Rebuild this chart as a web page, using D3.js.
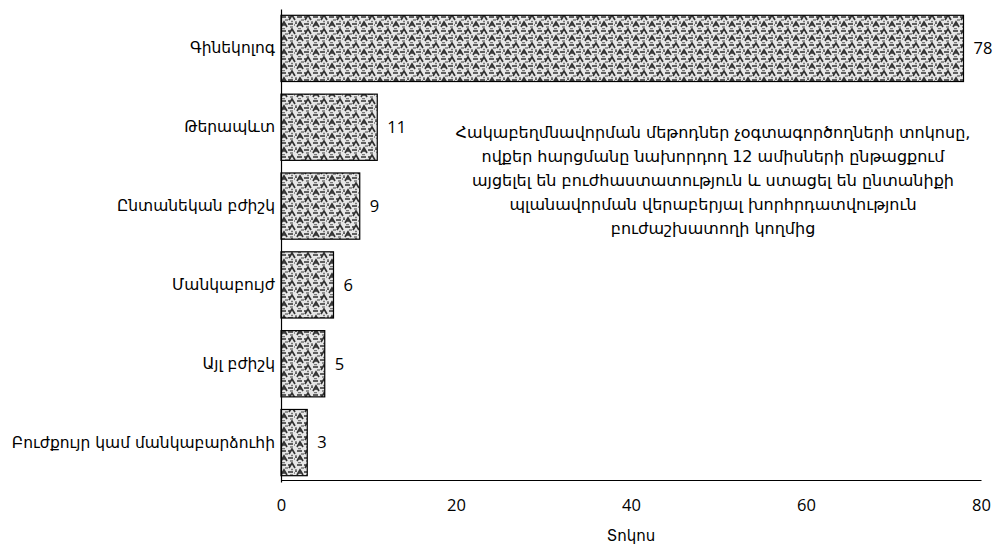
<!DOCTYPE html>
<html>
<head>
<meta charset="utf-8">
<script src="https://cdn.jsdelivr.net/npm/d3@7/dist/d3.min.js"></script>
<style>
  html, body { margin: 0; padding: 0; background: #fff; }
  svg { display: block; }
  .arm { font-family: "DejaVu Sans", sans-serif; }
  .num { font-family: "Open Sans", "Noto Sans", sans-serif; }
</style>
</head>
<body>
<svg id="chart" width="998" height="547"></svg>
<script>
// Share of contraceptive users who visited a clinic in the last 12 months
// and received family-planning advice from staff, by type of provider (%)
const categories = [
  "Գինեկոլոգ",
  "Թերապևտ",
  "Ընտանեկան բժիշկ",
  "Մանկաբույժ",
  "Այլ բժիշկ",
  "Բուժքույր կամ մանկաբարձուհի"
];
const values = [78, 11, 9, 6, 5, 3];
const xTicks = [0, 20, 40, 60, 80];
const xTitle = "Տոկոս";
const noteLines = [
  "Հակաբեղմնավորման մեթոդներ չօգտագործողների տոկոսը,",
  "ովքեր հարցմանը նախորդող 12 ամիսների ընթացքում",
  "այցելել են բուժհաստատություն և ստացել են ընտանիքի",
  "պլանավորման վերաբերյալ խորհրդատվություն",
  "բուժաշխատողի կողմից"
];

const svg = d3.select("#chart");
const margin = { left: 281, right: 17, top: 9, bottom: 65 };
const W = 998, H = 547;

const x = d3.scaleLinear().domain([0, 80]).range([margin.left, W - margin.right]);
const y = d3.scaleBand().domain(categories)
  .range([margin.top, H - margin.bottom]).paddingInner(0.16).paddingOuter(0.08);

// textured fill for the bars
const defs = svg.append("defs");
const pat = defs.append("pattern")
  .attr("id", "tex").attr("patternUnits", "userSpaceOnUse")
  .attr("width", 16).attr("height", 14);
pat.append("rect").attr("width", 16).attr("height", 14).attr("fill", "#e6e6e6");
pat.append("path")
  .attr("d", "M0,3 h3 M1,6 L4,1 L7,6 M9,3 L14,3 M0,10 L5,10 M9,13 L12,8 L15,13 M11,11 L14,11 M7,9 h2")
  .attr("stroke", "#333").attr("stroke-width", 1.7).attr("fill", "none");
pat.append("path")
  .attr("d", "M7,8 h2 M13,6 h3 M2,13 h3 M6,11 h1 M10,0.5 h3 M3,7.5 h2")
  .attr("stroke", "#777").attr("stroke-width", 1.5).attr("fill", "none");

// bars
svg.append("g").selectAll("rect").data(values).join("rect")
  .attr("x", x(0))
  .attr("y", (d, i) => y(categories[i]))
  .attr("width", d => x(d) - x(0))
  .attr("height", y.bandwidth())
  .attr("fill", "url(#tex)")
  .attr("stroke", "#000").attr("stroke-width", 1.2);

// value labels
svg.append("g").selectAll("text").data(values).join("text")
  .attr("class", "num")
  .attr("x", d => x(d) + 10)
  .attr("y", (d, i) => y(categories[i]) + y.bandwidth() / 2)
  .attr("dy", "0.35em")
  .style("font-size", "16.5px")
  .attr("fill", "#000")
  .text(d => d);

// x axis
const xAxis = svg.append("g")
  .attr("transform", `translate(0,${H - margin.bottom - 2})`)
  .call(d3.axisBottom(x).tickValues(xTicks).tickSize(0).tickPadding(19));
xAxis.select(".domain").attr("stroke", "#000").attr("stroke-width", 1.2);
xAxis.selectAll("text").attr("class", "num").style("font-size", "16.5px").attr("fill", "#000");

// y axis
const yAxis = svg.append("g")
  .attr("transform", `translate(${margin.left},0)`)
  .call(d3.axisLeft(y).tickSize(0).tickPadding(6));
yAxis.select(".domain").attr("stroke", "#000").attr("stroke-width", 1.2);
yAxis.selectAll("text").attr("class", "arm").style("font-size", "15.5px").attr("fill", "#000");

// axis title
svg.append("text")
  .attr("class", "arm")
  .attr("x", (x(0) + x(80)) / 2).attr("y", 541)
  .attr("text-anchor", "middle").style("font-size", "15px")
  .text(xTitle);

// explanatory note
svg.append("text")
  .attr("class", "arm")
  .attr("text-anchor", "middle").style("font-size", "16px")
  .selectAll("tspan").data(noteLines).join("tspan")
  .attr("x", 713).attr("y", (d, i) => 138 + i * 24)
  .text(d => d);
</script>
</body>
</html>
